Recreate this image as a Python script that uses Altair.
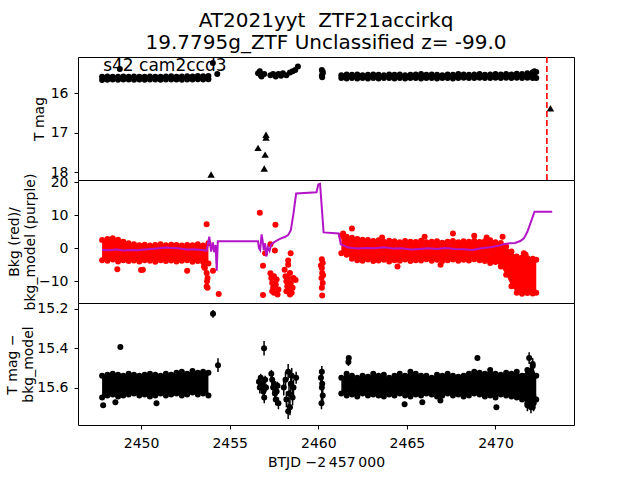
import altair as alt
import pandas as pd

FONT = "DejaVu Sans"
XDOM = [2446.44, 2474.43]

# ---------------- data ----------------
# dense observation segments (sample times) with band envelopes
tA = [2447.8, 2448.1, 2448.4, 2448.7, 2449.0, 2449.3, 2449.6, 2449.9, 2450.2, 2450.5,
      2450.8, 2451.1, 2451.4, 2451.7, 2452.0, 2452.3, 2452.6, 2452.9, 2453.2, 2453.5, 2453.8]
tC = [2461.3, 2461.6, 2461.9, 2462.2, 2462.5, 2462.8, 2463.1, 2463.4, 2463.7, 2464.0,
      2464.3, 2464.6, 2464.9, 2465.2, 2465.5, 2465.8, 2466.1, 2466.4, 2466.7, 2467.0,
      2467.3, 2467.6, 2467.9, 2468.2, 2468.5, 2468.8, 2469.1, 2469.4, 2469.7, 2470.0,
      2470.3, 2470.6, 2470.9, 2471.2, 2471.5, 2471.8, 2472.1, 2472.3]

# panel 1: T mag
mag_hiA = [15.59, 15.58, 15.585, 15.59, 15.58, 15.585, 15.58, 15.59, 15.585, 15.58, 15.59,
           15.585, 15.58, 15.575, 15.585, 15.58, 15.575, 15.58, 15.57, 15.575, 15.57]
mag_loA = [15.67, 15.665, 15.66, 15.665, 15.66, 15.655, 15.665, 15.66, 15.665, 15.66, 15.655,
           15.665, 15.66, 15.655, 15.66, 15.665, 15.655, 15.66, 15.65, 15.655, 15.65]
mag_hiC = [15.55, 15.53, 15.54, 15.53, 15.55, 15.54, 15.53, 15.54, 15.55, 15.53,
           15.54, 15.53, 15.55, 15.54, 15.53, 15.52, 15.54, 15.53, 15.54, 15.55,
           15.53, 15.54, 15.52, 15.53, 15.54, 15.53, 15.52, 15.54, 15.53, 15.52,
           15.53, 15.52, 15.53, 15.51, 15.52, 15.50, 15.48, 15.47]
mag_loC = [15.62, 15.63, 15.62, 15.63, 15.62, 15.63, 15.62, 15.63, 15.62, 15.62,
           15.63, 15.62, 15.63, 15.62, 15.62, 15.63, 15.62, 15.62, 15.63, 15.62,
           15.62, 15.63, 15.62, 15.61, 15.62, 15.62, 15.61, 15.62, 15.62, 15.61,
           15.62, 15.61, 15.62, 15.61, 15.62, 15.61, 15.62, 15.62]
mag_pt_t = [2448.8, 2454.05, 2454.3, 2456.6, 2456.7, 2456.75, 2456.8, 2456.95, 2457.3,
            2457.45, 2457.6, 2457.75, 2457.9, 2458.0, 2458.2, 2458.4, 2458.55, 2458.7,
            2458.85, 2460.2, 2460.25, 2460.2, 2460.22, 2460.25, 2472.2, 2472.1]
mag_pt_m = [15.39, 15.24, 15.52, 15.50, 15.45, 15.55, 15.58, 15.52, 15.55,
            15.52, 15.58, 15.52, 15.56, 15.50, 15.55, 15.48, 15.45, 15.42,
            15.33, 15.42, 15.50, 15.56, 15.60, 15.46, 15.45, 15.48]
lim_t = [2453.95, 2456.6, 2456.95, 2457.0, 2457.05, 2457.05, 2473.1]
lim_m = [18.05, 17.38, 17.9, 17.55, 17.12, 17.05, 16.38]
peak_t = [2472.9]
label_text = ["s42 cam2ccd3"]
label_t = [2447.86]
label_m = [15.434]

# panel 2: background (red) and background model (purple)
bkg_hiA = [2.5, 2.8, 3.0, 2.6, 2.0, 1.5, 1.2, 0.9, 1.1, 0.8, 1.0,
           1.2, 0.9, 1.1, 1.0, 0.8, 1.0, 0.9, 1.2, 0.8, 1.5]
bkg_loA = [-3.6, -3.8, -3.4, -4.0, -3.6, -3.9, -3.7, -4.0, -3.6, -3.8, -4.1,
           -3.6, -3.9, -3.7, -4.0, -3.8, -3.6, -4.1, -3.9, -4.2, -4.6]
bkg_hiC = [3.8, 3.5, 3.2, 2.8, 2.6, 2.5, 2.2, 2.4, 2.0, 2.3,
           2.1, 1.8, 2.2, 2.0, 1.9, 2.3, 1.8, 2.0, 2.1, 1.7,
           2.0, 2.2, 1.8, 2.1, 2.0, 2.3, 1.9, 2.1, 2.4, 1.8,
           1.6, 0.5, -1.0, -2.5, -2.8, -3.0, -3.2, -3.5]
bkg_loC = [-1.5, -2.0, -3.2, -3.6, -3.8, -3.4, -3.9, -3.7, -3.5, -4.0,
           -3.6, -3.8, -3.4, -3.9, -3.6, -3.7, -3.3, -3.8, -3.5, -3.9,
           -3.6, -3.4, -3.8, -3.5, -3.7, -3.3, -3.6, -3.9, -4.5, -4.2,
           -5.5, -8.0, -11.5, -13.5, -13.8, -13.6, -13.7, -13.5]
bkg_pt_t = [2448.66, 2450.0, 2450.1, 2452.6, 2453.55, 2453.6, 2453.7, 2453.75, 2453.72,
            2453.7, 2453.75, 2453.7, 2454.06, 2454.38,
            2456.7, 2456.88, 2456.88, 2457.0, 2457.3, 2457.58, 2457.55, 2457.3, 2457.35,
            2457.4, 2457.45, 2457.5, 2457.6, 2457.65, 2457.75, 2457.5, 2457.7, 2457.4,
            2458.1, 2458.15, 2458.2, 2458.25, 2458.3, 2458.35, 2458.4, 2458.44, 2458.3,
            2458.45, 2458.5, 2458.55, 2458.6, 2458.72, 2458.2, 2458.4, 2458.3,
            2460.2, 2460.25, 2460.2, 2460.22, 2460.18, 2460.25, 2460.2, 2460.22, 2460.15, 2460.27,
            2461.9, 2461.4, 2467.6, 2464.47, 2466.9, 2469.5, 2466.0, 2468.8, 2470.4, 2463.6,
            2471.6, 2471.7, 2471.9, 2472.0]
bkg_pt_v = [-6.4, -6.6, -6.5, -6.8, -5.5, -6.0, -7.5, -9.0, -10.0,
            -11.6, -12.0, 7.3, -6.8, -13.9,
            10.8, -5.3, -14.2, -1.5, 1.2, 7.1, -0.7, -7.6, -9.0,
            -10.5, -12.0, -13.5, -11.0, -9.5, -12.5, -8.5, -14.0, -13.0,
            -6.5, -8.5, -10.0, -11.5, -9.0, -12.5, -7.5, -1.5, -3.7,
            -10.5, -13.5, -12.0, -9.0, -9.6, -13.0, -14.0, -5.0,
            -3.3, -4.5, -6.0, -7.5, -9.0, -10.5, -12.0, -14.3, -5.2, -8.2,
            6.0, 4.5, 4.5, -5.5, -5.0, 3.3, 3.5, 3.8, 3.5, 3.3,
            -1.5, -2.0, -6.0, -4.0]
model_t = [2447.8, 2448.2, 2448.6, 2449.0, 2449.4, 2449.8, 2450.2, 2450.6, 2451.0, 2451.4,
           2451.8, 2452.2, 2452.6, 2453.0, 2453.4, 2453.7,
           2453.85, 2453.95, 2454.05, 2454.12, 2454.2, 2454.27, 2454.33,
           2456.6, 2456.65, 2456.72, 2456.8, 2456.86, 2456.92, 2457.0, 2457.07, 2457.15,
           2457.25, 2457.35, 2457.5, 2457.7, 2457.9, 2458.1, 2458.3, 2458.45, 2458.6,
           2458.75, 2459.9, 2460.0, 2460.1, 2460.3, 2461.15, 2461.27,
           2461.7, 2462.2, 2462.7, 2463.2, 2463.7, 2464.2, 2464.7, 2465.2, 2465.7, 2466.2,
           2466.7, 2467.2, 2467.7, 2468.2, 2468.7, 2469.2, 2469.7, 2470.2, 2470.5, 2470.8,
           2471.1, 2471.4, 2471.6, 2471.8, 2472.0, 2472.2, 2473.2]
model_v = [-0.5, -0.6, -0.4, -0.7, -0.5, -0.6, -0.4, -0.2, 0.0, 0.2,
           0.1, -0.1, -0.4, -0.3, -0.5, -0.7,
           3.5, -1.0, 1.8, -1.2, 1.0, -6.8, 2.1,
           2.1, 0.0, -0.6, 4.2, 2.3, -0.5, 1.5, -2.5, 0.3,
           -0.8, 1.2, 1.8, 2.5, 3.0, 3.4, 4.0, 5.5, 10.6,
           16.6, 17.0, 19.3, 19.5, 4.8, 4.5, 1.2,
           0.2, -0.1, 0.1, 0.0, 0.3, -0.1, 0.0, -0.4, -0.2, 0.0,
           -0.2, 0.1, -0.2, -0.3, -0.5, 0.0, 0.3, 0.8, 1.3, 1.5,
           1.6, 2.2, 3.0, 5.0, 8.0, 11.1, 11.1]

# panel 3: T mag - bkg_model
dif_hiA = [15.54, 15.535, 15.53, 15.535, 15.54, 15.53, 15.535, 15.54, 15.535, 15.53, 15.535,
           15.54, 15.53, 15.535, 15.525, 15.52, 15.53, 15.515, 15.525, 15.52, 15.525]
dif_loA = [15.65, 15.64, 15.635, 15.645, 15.64, 15.635, 15.63, 15.64, 15.635, 15.645, 15.64,
           15.63, 15.64, 15.635, 15.63, 15.64, 15.635, 15.625, 15.635, 15.63, 15.64]
dif_hiC = [15.55, 15.53, 15.54, 15.55, 15.54, 15.545, 15.53, 15.54, 15.535, 15.55,
           15.54, 15.53, 15.54, 15.52, 15.53, 15.54, 15.54, 15.55, 15.535, 15.54,
           15.53, 15.54, 15.545, 15.54, 15.53, 15.52, 15.525, 15.53, 15.51, 15.53,
           15.535, 15.525, 15.53, 15.52, 15.54, 15.51, 15.49, 15.54]
dif_loC = [15.63, 15.64, 15.635, 15.645, 15.63, 15.64, 15.635, 15.64, 15.645, 15.635,
           15.64, 15.63, 15.64, 15.645, 15.635, 15.64, 15.63, 15.635, 15.645, 15.64,
           15.63, 15.64, 15.635, 15.645, 15.64, 15.63, 15.635, 15.645, 15.64, 15.65,
           15.635, 15.64, 15.645, 15.65, 15.66, 15.68, 15.70, 15.66]
dif_pt_t = [2448.83, 2448.55, 2447.86, 2450.87, 2454.06, 2454.34,
            2456.94, 2456.65, 2456.7, 2456.75, 2456.85, 2456.9, 2457.0, 2457.05, 2456.95,
            2457.35, 2457.4, 2457.45, 2457.5, 2457.55, 2457.6, 2457.65, 2457.7, 2457.75,
            2458.05, 2458.15, 2458.2, 2458.3, 2458.35, 2458.4, 2458.45, 2458.5, 2458.55,
            2458.6, 2458.75, 2458.3,
            2460.15, 2460.2, 2460.25, 2460.18, 2460.22, 2460.2,
            2461.72, 2468.98, 2464.87, 2465.87, 2466.89, 2470.05, 2471.9, 2472.0, 2472.1,
            2472.15, 2471.8, 2472.25, 2461.7]
dif_pt_m = [15.393, 15.674, 15.69, 15.68, 15.225, 15.486,
            15.40, 15.57, 15.60, 15.55, 15.58, 15.62, 15.56, 15.60, 15.65,
            15.53, 15.56, 15.60, 15.58, 15.63, 15.66, 15.62, 15.59, 15.68,
            15.60, 15.56, 15.66, 15.52, 15.63, 15.70, 15.58, 15.54, 15.65,
            15.60, 15.55, 15.72,
            15.55, 15.60, 15.64, 15.68, 15.58, 15.52,
            15.449, 15.449, 15.685, 15.675, 15.665, 15.70, 15.45, 15.70, 15.48,
            15.68, 15.69, 15.66, 15.47]
dif_pt_e = [0.008, 0.01, 0.01, 0.01, 0.02, 0.035,
            0.037, 0.02, 0.03, 0.02, 0.03, 0.03, 0.02, 0.02, 0.03,
            0.02, 0.02, 0.03, 0.02, 0.03, 0.03, 0.02, 0.02, 0.03,
            0.04, 0.04, 0.04, 0.04, 0.05, 0.04, 0.04, 0.04, 0.04,
            0.04, 0.03, 0.04,
            0.03, 0.03, 0.03, 0.03, 0.03, 0.03,
            0.01, 0.01, 0.01, 0.01, 0.01, 0.01, 0.03, 0.03, 0.03,
            0.04, 0.03, 0.03, 0.02]

# ---------------- tables ----------------
def band(hiA, loA, hiC, loC):
    return pd.DataFrame({
        "t": tA + tC,
        "hi": hiA + hiC,
        "lo": loA + loC,
        "seg": ["A"] * len(tA) + ["C"] * len(tC),
    })

def edges(df):
    return pd.DataFrame({"t": list(df["t"]) * 2, "v": list(df["hi"]) + list(df["lo"])})

mag_band = band(mag_hiA, mag_loA, mag_hiC, mag_loC)
bkg_band = band(bkg_hiA, bkg_loA, bkg_hiC, bkg_loC)
dif_band = band(dif_hiA, dif_loA, dif_hiC, dif_loC)

mag_pts = pd.DataFrame({"t": mag_pt_t, "v": mag_pt_m})
lims = pd.DataFrame({"t": lim_t, "v": lim_m})
peak = pd.DataFrame({"t": peak_t})
lab = pd.DataFrame({"t": label_t, "v": label_m, "txt": label_text})
bkg_pts = pd.DataFrame({"t": bkg_pt_t, "v": bkg_pt_v})
model = pd.DataFrame({"t": model_t, "v": model_v})
dif_pts = pd.DataFrame({"t": dif_pt_t, "v": dif_pt_m, "e": dif_pt_e})
dif_pts["v1"] = dif_pts["v"] - dif_pts["e"]
dif_pts["v2"] = dif_pts["v"] + dif_pts["e"]

W = 496
xs = alt.Scale(domain=XDOM, nice=False, zero=False)
x_none = alt.X("t:Q", scale=xs, axis=None)
DOT = 36

# ---------------- panel 1 ----------------
y1s = alt.Scale(domain=[15.09, 18.19], reverse=True, nice=False, zero=False)
y1ax = alt.Axis(values=[16, 17, 18], format="d", title="T mag", titlePadding=4)
p1 = alt.layer(
    alt.Chart(mag_band).mark_area(color="black").encode(
        x=x_none, y=alt.Y("hi:Q", scale=y1s, axis=y1ax), y2="lo:Q", detail="seg:N"),
    alt.Chart(edges(mag_band)).mark_circle(color="black", size=DOT, opacity=1).encode(
        x=x_none, y=alt.Y("v:Q", scale=y1s)),
    alt.Chart(mag_pts).mark_circle(color="black", size=DOT, opacity=1).encode(
        x=x_none, y=alt.Y("v:Q", scale=y1s)),
    alt.Chart(lims).mark_point(shape="triangle-up", filled=True, color="black", size=55, opacity=1).encode(
        x=x_none, y=alt.Y("v:Q", scale=y1s)),
    alt.Chart(peak).mark_rule(color="red", strokeWidth=1.6, strokeDash=[6, 3]).encode(x=x_none),
    alt.Chart(lab).mark_text(align="left", baseline="alphabetic", font=FONT, fontSize=17, color="black").encode(
        x=x_none, y=alt.Y("v:Q", scale=y1s), text="txt:N"),
).properties(
    width=W, height=123,
    title=alt.TitleParams(
        text=["AT2021yyt\u00a0 ZTF21accirkq", "19.7795g_ZTF Unclassified z= -99.0"],
        font=FONT, fontSize=20, fontWeight="normal", color="black",
        anchor="middle", frame="group", lineHeight=22, offset=3),
)

# ---------------- panel 2 ----------------
y2s = alt.Scale(domain=[-16.6, 20.7], nice=False, zero=False)
y2ax = alt.Axis(values=[-10, 0, 10, 20], format="d", title=["Bkg (red)/", "bkg_model (purple)"])
p2 = alt.layer(
    alt.Chart(bkg_band).mark_area(color="red").encode(
        x=x_none, y=alt.Y("hi:Q", scale=y2s, axis=y2ax), y2="lo:Q", detail="seg:N"),
    alt.Chart(edges(bkg_band)).mark_circle(color="red", size=DOT, opacity=1).encode(
        x=x_none, y=alt.Y("v:Q", scale=y2s)),
    alt.Chart(bkg_pts).mark_circle(color="red", size=DOT, opacity=1).encode(
        x=x_none, y=alt.Y("v:Q", scale=y2s)),
    alt.Chart(model).mark_line(color="#b414c8", strokeWidth=2).encode(
        x=x_none, y=alt.Y("v:Q", scale=y2s)),
).properties(width=W, height=123)

# ---------------- panel 3 ----------------
y3s = alt.Scale(domain=[15.17, 15.79], reverse=True, nice=False, zero=False)
y3ax = alt.Axis(values=[15.2, 15.4, 15.6], format=".1f", title=["T mag \u2212", "bkg_model"])
x3 = alt.X("t:Q", scale=xs, axis=alt.Axis(values=[2450, 2455, 2460, 2465, 2470], format="d",
                                          title="BTJD \u22122\u2009457\u2009000"))
p3 = alt.layer(
    alt.Chart(dif_band).mark_area(color="black").encode(
        x=x3, y=alt.Y("hi:Q", scale=y3s, axis=y3ax), y2="lo:Q", detail="seg:N"),
    alt.Chart(edges(dif_band)).mark_circle(color="black", size=DOT, opacity=1).encode(
        x=x3, y=alt.Y("v:Q", scale=y3s)),
    alt.Chart(dif_pts).mark_rule(color="black", strokeWidth=1.5).encode(
        x=x3, y=alt.Y("v1:Q", scale=y3s), y2="v2:Q"),
    alt.Chart(dif_pts).mark_circle(color="black", size=DOT, opacity=1).encode(
        x=x3, y=alt.Y("v:Q", scale=y3s)),
).properties(width=W, height=122)

chart = alt.vconcat(p1, p2, p3, spacing=0, bounds="flush").properties(
    padding={"left": 5, "top": 10, "right": 5, "bottom": 5},
    background="white",
).configure_view(
    stroke="black", strokeWidth=1
).configure_axis(
    domain=False, grid=False, tickColor="black", tickSize=4, tickWidth=1,
    labelColor="black", labelFont=FONT, labelFontSize=14,
    titleFont=FONT, titleFontSize=14, titleFontWeight="normal", titleColor="black",
).configure_axisY(
    labelPadding=6, titlePadding=1, titleColor="black", labelColor="black",
).configure_axisX(
    labelPadding=7, titlePadding=5, titleColor="black", labelColor="black",
)

chart.save("out.html", embed_options={"renderer": "svg", "actions": False})
